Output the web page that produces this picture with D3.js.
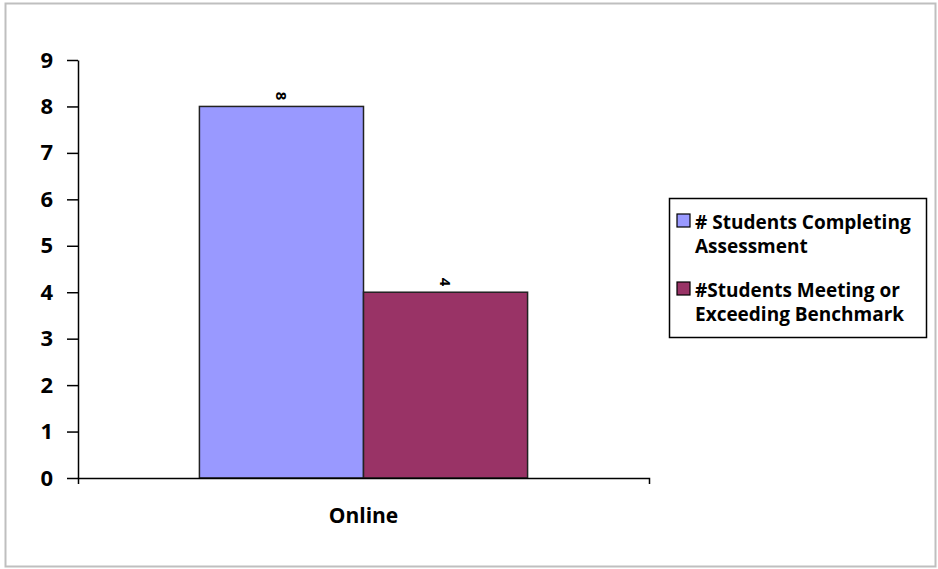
<!DOCTYPE html>
<html>
<head>
<meta charset="utf-8">
<script src="https://cdn.jsdelivr.net/npm/d3@7"></script>
<style>
  body { margin: 0; background: #fff; }
  text { font-family: "Open Sans", "Liberation Sans", Arial, sans-serif; }
</style>
</head>
<body>
<div id="chart"></div>
<script>
const categories = ['Online'];
const seriesNames = ['# Students Completing Assessment', '#Students Meeting or Exceeding Benchmark'];
const legendLines = [['# Students Completing', 'Assessment'], ['#Students Meeting or', 'Exceeding Benchmark']];
const completing = [8];
const meeting = [4];
const yTicks = [0, 1, 2, 3, 4, 5, 6, 7, 8, 9];

const colors = ['#9999ff', '#993366'];
const font = '"Open Sans", "Liberation Sans", Arial, sans-serif';
const size = { width: 938, height: 569 };
const margin = { left: 78, right: 289, top: 60, bottom: 91 };

const svg = d3.select('#chart').append('svg')
  .attr('width', size.width)
  .attr('height', size.height);

// outer frame
svg.append('rect')
  .attr('x', 5.5).attr('y', 3.5)
  .attr('width', 930).attr('height', 563)
  .attr('fill', 'white')
  .attr('stroke', '#bfbfbf')
  .attr('stroke-width', 2);

const x = d3.scaleBand()
  .domain(categories)
  .range([margin.left, size.width - margin.right]);

const xInner = d3.scaleBand()
  .domain(d3.range(seriesNames.length))
  .range([0, x.bandwidth()])
  .paddingOuter(0.74);

const y = d3.scaleLinear()
  .domain([0, 9])
  .range([size.height - margin.bottom, margin.top]);

const series = [completing, meeting];

const g = svg.append('g');

series.forEach((vals, i) => {
  g.selectAll(null)
    .data(vals)
    .enter()
    .append('rect')
    .attr('x', (d, j) => x(categories[j]) + xInner(i))
    .attr('y', (d) => y(d))
    .attr('width', xInner.bandwidth())
    .attr('height', (d) => y(0) - y(d))
    .attr('fill', colors[i])
    .attr('stroke', '#222')
    .attr('stroke-width', 1.5);

  // rotated value labels
  g.selectAll(null)
    .data(vals)
    .enter()
    .append('text')
    .attr('transform', (d, j) => {
      const cx = x(categories[j]) + xInner(i) + xInner.bandwidth() / 2;
      return `translate(${cx},${y(d) - 6}) rotate(90)`;
    })
    .attr('text-anchor', 'end')
    .attr('dy', '0.35em')
    .attr('font-size', 15)
    .attr('font-weight', 'bold')
    .text((d) => d);
});

// y axis
const yAxis = svg.append('g')
  .attr('transform', `translate(${margin.left},0)`)
  .call(d3.axisLeft(y).tickValues(yTicks).tickSize(11).tickSizeOuter(0));
yAxis.select('.domain').attr('stroke', '#000').attr('stroke-width', 1.5);
yAxis.selectAll('.tick line').attr('stroke', '#000').attr('stroke-width', 1.5);
yAxis.selectAll('.tick text')
  .attr('x', -25)
  .attr('font-size', 22)
  .attr('font-weight', 'bold')
  .attr('font-family', font)
  .attr('fill', '#000');

// x axis
const xAxis = svg.append('g')
  .attr('transform', `translate(0,${y(0)})`)
  .call(d3.axisBottom(x).tickSize(0).tickSizeOuter(6));
xAxis.select('.domain').attr('stroke', '#000').attr('stroke-width', 1.5);
xAxis.selectAll('.tick text')
  .attr('y', 30)
  .attr('font-size', 21)
  .attr('font-weight', 'bold')
  .attr('font-family', font)
  .attr('fill', '#000');

// legend
const legend = svg.append('g');
legend.append('rect')
  .attr('x', 669.5).attr('y', 198.5)
  .attr('width', 257).attr('height', 139)
  .attr('fill', 'white')
  .attr('stroke', '#000')
  .attr('stroke-width', 1.5);

legendLines.forEach((lines, i) => {
  const top = 210 + i * 68;
  legend.append('rect')
    .attr('x', 677).attr('y', top + 4)
    .attr('width', 13).attr('height', 13)
    .attr('fill', colors[i])
    .attr('stroke', '#000')
    .attr('stroke-width', 1.2);
  lines.forEach((line, k) => {
    legend.append('text')
      .attr('x', 695)
      .attr('y', top + 19 + k * 24)
      .attr('font-size', 19)
      .attr('font-weight', 'bold')
      .text(line);
  });
});
</script>
</body>
</html>
